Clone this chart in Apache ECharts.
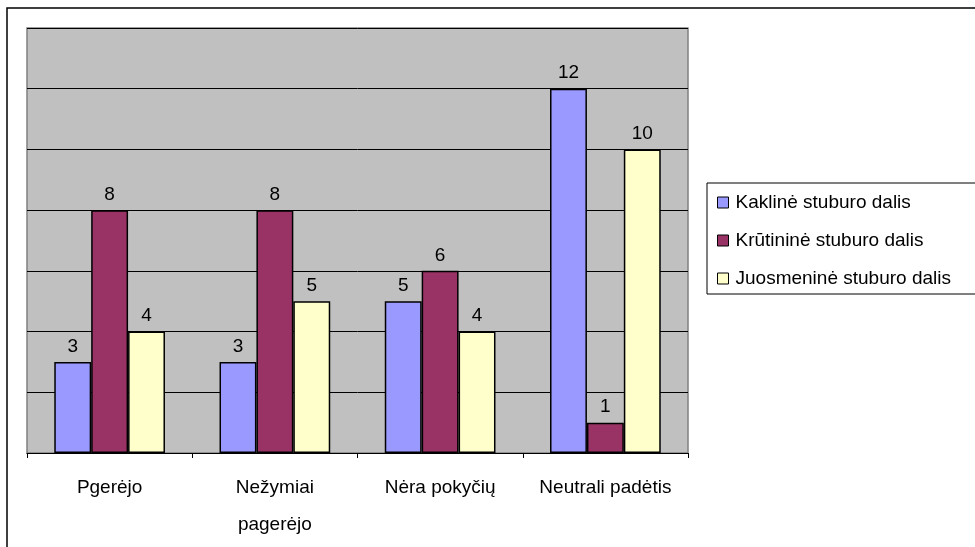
<!DOCTYPE html>
<html><head><meta charset="utf-8">
<script src="https://cdn.jsdelivr.net/npm/echarts@6/dist/echarts.min.js"></script>
<style>html,body{margin:0;padding:0;background:#fff}#c{width:975px;height:547px}</style>
</head><body><div id="c"></div>
<script>
const categories = ['Pgerėjo', 'Nežymiai\npagerėjo', 'Nėra pokyčių', 'Neutrali padėtis'];
const seriesNames = ['Kaklinė stuburo dalis', 'Krūtininė stuburo dalis', 'Juosmeninė stuburo dalis'];
const kakline = [3, 3, 5, 12];
const krutinine = [8, 8, 6, 1];
const juosmenine = [4, 5, 4, 10];
const colors = ['#9999FF', '#993366', '#FFFFCC'];
const FONT = 'Liberation Sans, Arial, sans-serif';

const chart = echarts.init(document.getElementById('c'));
const mk = (name, data, color) => ({
  name, type: 'bar', data, barGap: '0%', barCategoryGap: '33%',
  itemStyle: { color, borderColor: '#000', borderWidth: 1.5 },
  label: { show: true, position: 'top', distance: 6, color: '#000', fontSize: 19, fontFamily: FONT },
  emphasis: { disabled: true }
});
chart.setOption({
  animation: false,
  textStyle: { fontFamily: FONT },
  graphic: [
    { type: 'rect', shape: { x: 7, y: 8, width: 1100, height: 700 }, style: { fill: 'none', stroke: '#000', lineWidth: 1.5 }, z: -1 },
    { type: 'rect', shape: { x: 707, y: 183, width: 400, height: 111 }, style: { fill: '#fff', stroke: '#000', lineWidth: 1 }, z: 0 }
  ],
  grid: { left: 27, top: 28, width: 661, height: 425, show: true, backgroundColor: '#C0C0C0', borderColor: '#808080', borderWidth: 1.5 },
  legend: {
    orient: 'vertical', left: 712, top: 188, itemGap: 19, itemWidth: 11, itemHeight: 11,
    icon: 'rect', z: 10,
    textStyle: { fontSize: 19, color: '#000', fontFamily: FONT, padding: [0, 0, 0, 2] },
    itemStyle: { borderColor: '#000', borderWidth: 1 },
    data: seriesNames
  },
  xAxis: {
    type: 'category', data: categories,
    axisLine: { lineStyle: { color: '#000', width: 1 } },
    axisTick: { show: true, interval: 0, length: 5, lineStyle: { color: '#000' } },
    axisLabel: { interval: 0, hideOverlap: false, color: '#000', fontSize: 19, margin: 16, lineHeight: 37, fontFamily: FONT }
  },
  yAxis: {
    type: 'value', min: 0, max: 14, interval: 2,
    axisLine: { show: false }, axisTick: { show: false }, axisLabel: { show: false },
    splitLine: { lineStyle: { color: '#000', width: 1 } }
  },
  series: [mk(seriesNames[0], kakline, colors[0]), mk(seriesNames[1], krutinine, colors[1]), mk(seriesNames[2], juosmenine, colors[2])]
});
</script></body></html>
